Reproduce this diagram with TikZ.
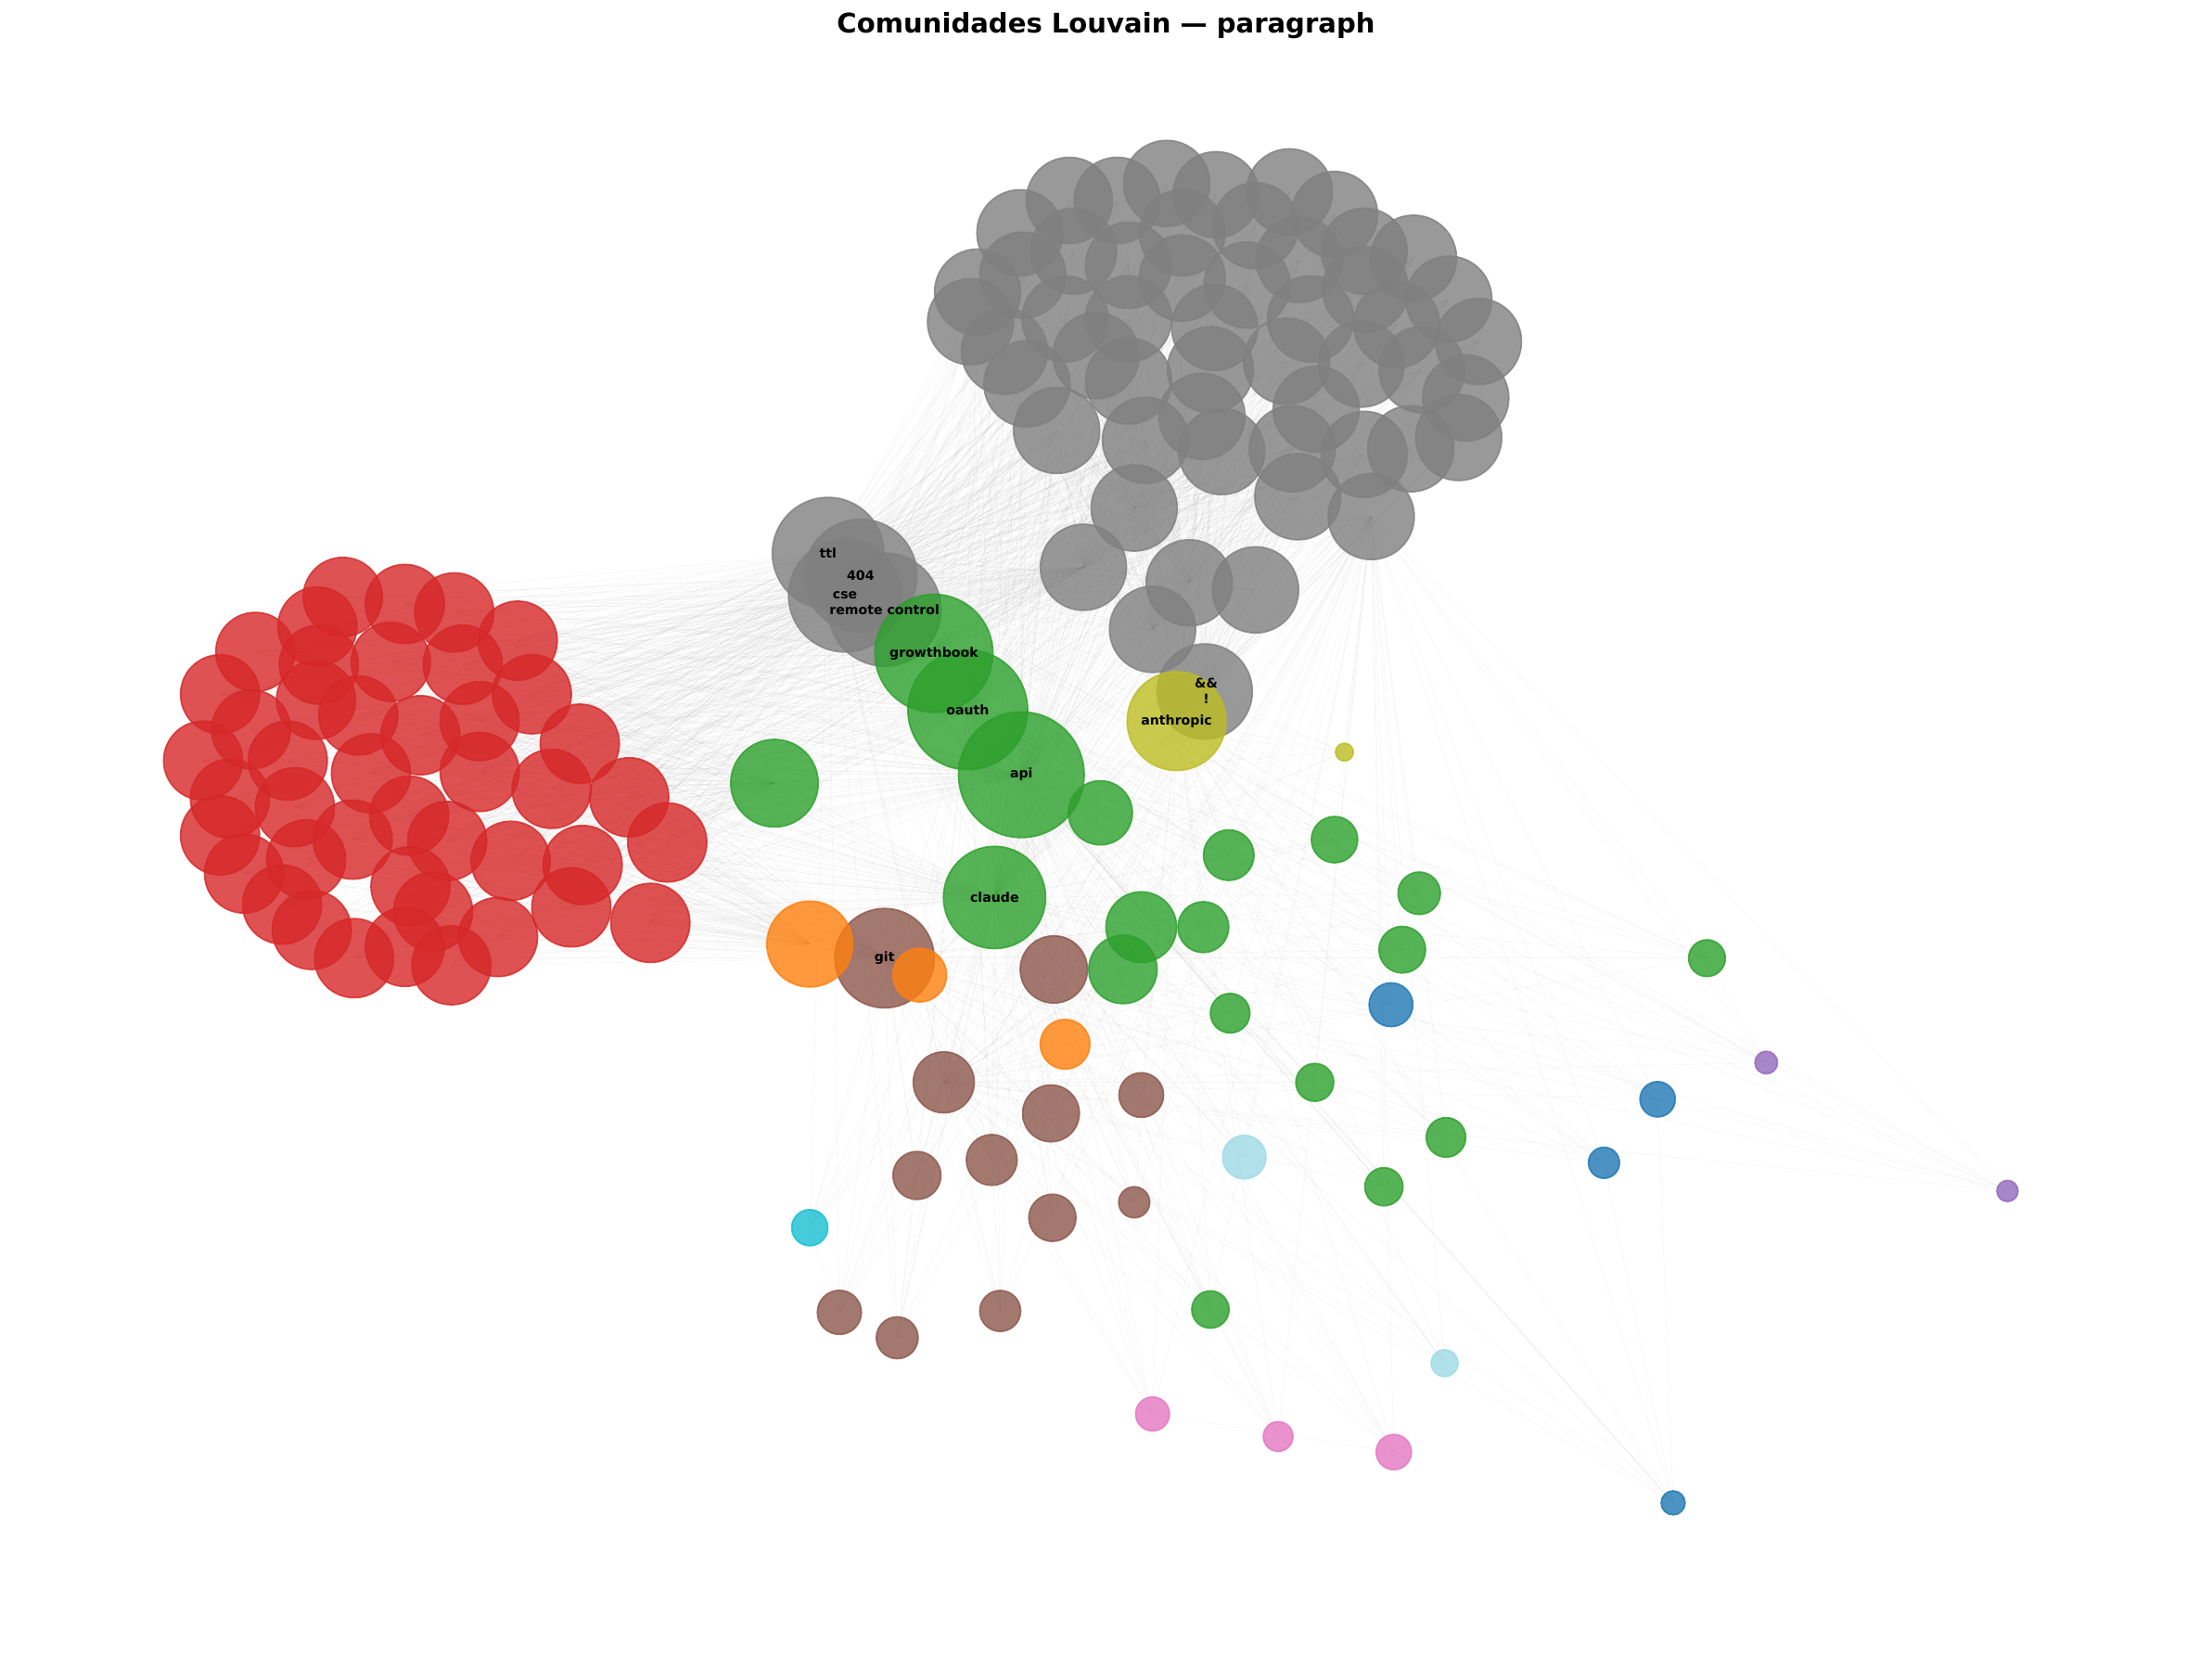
\documentclass[tikz,border=0pt]{standalone}
\usepackage{fontspec}
\setmainfont{DejaVu Sans}
\usetikzlibrary{backgrounds}

\definecolor{cred}{HTML}{D62728}
\definecolor{cgray}{HTML}{7F7F7F}
\definecolor{cgreen}{HTML}{2CA02C}
\definecolor{colive}{HTML}{BCBD22}
\definecolor{corange}{HTML}{FF7F0E}
\definecolor{cbrown}{HTML}{8C564B}
\definecolor{cblue}{HTML}{1F77B4}
\definecolor{cpurple}{HTML}{9467BD}
\definecolor{cpink}{HTML}{E377C2}
\definecolor{ccyan}{HTML}{17BECF}
\definecolor{clcyan}{HTML}{9EDAE5}

\begin{document}
\begin{tikzpicture}[
  x=0.025cm, y=-0.025cm,
  vtx/.style={
    circle,
    inner sep=0pt,
    outer sep=0pt,
    minimum size=#1*0.5mm,
    line width=0.8pt,
    fill opacity=0.8,
    draw opacity=0.8
  },
  gnode/.style={vtx=#1, fill=cgray, draw=cgray},
  rnode/.style={vtx=#1, fill=cred, draw=cred},
  grnode/.style={vtx=#1, fill=cgreen, draw=cgreen},
  bnode/.style={vtx=#1, fill=cbrown, draw=cbrown},
  onode/.style={vtx=#1, fill=corange, draw=corange},
  ynode/.style={vtx=#1, fill=colive, draw=colive},
  blnode/.style={vtx=#1, fill=cblue, draw=cblue},
  pnode/.style={vtx=#1, fill=cpurple, draw=cpurple},
  pknode/.style={vtx=#1, fill=cpink, draw=cpink},
  cnode/.style={vtx=#1, fill=ccyan, draw=ccyan},
  lcnode/.style={vtx=#1, fill=clcyan, draw=clcyan},
  lbl/.style={font=\bfseries\fontsize{6.6}{7}\selectfont, text=black, inner sep=0pt},
  edge/.style={draw=gray, opacity=0.08, line width=0.3pt},
  title/.style={font=\bfseries\fontsize{13.6}{16}\selectfont}
]

\useasboundingbox (0,0) rectangle (1568,1173);

% TITLE
\node[title] (title) at (784,18) {Comunidades Louvain — paragraph};

% ==================== GRAY COMMUNITY ====================
\foreach \px/\py [count=\i] in {
  723/165, 758/142, 792/142, 827/130, 862/138, 914/136, 946/152, 761/178,
  725/195, 800/188, 838/165, 890/160, 921/184, 967/178, 1002/183, 693/207,
  688/228, 838/197, 884/202, 968/205, 1027/212, 755/226, 800/226, 861/232,
  929/226, 990/230, 712/249, 777/252, 858/262, 912/256, 1008/262, 1048/242,
  728/272, 800/270, 852/295, 933/290, 965/258, 1039/282, 749/305, 812/312,
  866/320, 916/318, 967/322, 1000/318, 1034/310, 804/360, 920/352, 972/366,
  768/402, 843/413, 890/418, 817/446}
  \node[gnode=30.5] (g\i) at (\px,\py) {};

\node[gnode=33.7] (amp) at (854,490) {};

% hub words
\node[gnode=39.5] (ttl) at (587,392) {};
\node[gnode=40] (n404) at (610,408) {};
\node[gnode=40] (cse) at (599,422) {};
\node[gnode=40] (rc) at (627,432) {};

% ==================== RED COMMUNITY ====================
\foreach \px/\py [count=\i] in {
  243/423, 287/428, 322/434, 225/444, 367/454, 181/462, 226/471, 277/469,
  328/471, 156/492, 224/496, 254/507, 377/492, 298/521, 340/511, 411/527,
  178/517, 204/539, 144/539, 263/548, 340/547, 391/559, 446/565, 163/566,
  209/572, 290/578, 250/595, 317/596, 156/592, 362/610, 413/613, 473/597,
  217/609, 173/619, 291/628, 200/641, 307/646, 405/643, 461/654, 353/664,
  221/659, 251/679, 287/671, 320/684}
  \node[rnode=28] (r\i) at (\px,\py) {};

% ==================== BROWN ====================
\node[bnode=35.2] (git) at (627,679) {};
\node[bnode=23.8] (b1) at (747,687) {};
\node[bnode=21.6] (b2) at (669,767) {};
\node[bnode=20.1] (b3) at (745,789) {};
\node[bnode=15.8] (b4) at (809,776) {};
\node[bnode=17] (b5) at (650,833) {};
\node[bnode=18] (b6) at (703,822) {};
\node[bnode=16.7] (b7) at (746,863) {};
\node[bnode=11] (b8) at (804,852) {};
\node[bnode=15.6] (b9) at (595,930) {};
\node[bnode=14.8] (b10) at (636,948) {};
\node[bnode=14.5] (b11) at (709,929) {};

% ==================== GREEN ====================
\node[grnode=41.8] (gb) at (662,463) {};
\node[grnode=42.4] (oauth) at (686,503) {};
\node[grnode=44.5] (api) at (724,549) {};
\node[grnode=36.2] (claude) at (705,636) {};
\node[grnode=31] (gL) at (549,555) {};
\node[grnode=22.7] (gr1) at (780,576) {};
\node[grnode=17.9] (gr2) at (871,606) {};
\node[grnode=16.4] (gr3) at (946,595) {};
\node[grnode=15] (gr4) at (1006,633) {};
\node[grnode=25] (gr5) at (809,657) {};
\node[grnode=18] (gr6) at (853,657) {};
\node[grnode=16.5] (gr7) at (994,673) {};
\node[grnode=24.2] (gr8) at (796,687) {};
\node[grnode=13] (gr9) at (1210,679) {};
\node[grnode=14] (gr10) at (872,718) {};
\node[grnode=13.4] (gr11) at (932,767) {};
\node[grnode=14] (gr12) at (1025,806) {};
\node[grnode=13.5] (gr13) at (981,841) {};
\node[grnode=13.2] (gr14) at (858,928) {};

% ==================== ORANGE / OLIVE ====================
\node[onode=30.4] (oA) at (574,669) {};
\node[onode=19] (oB) at (652,691) {};
\node[onode=17.6] (oC) at (755,740) {};
\node[ynode=35] (anth) at (834,511) {};
\node[ynode=6.3] (y1) at (953,533) {};

% ==================== SMALL COMMUNITIES ====================
\node[blnode=15.5] (bl1) at (986,712) {};
\node[blnode=12.5] (bl2) at (1175,779) {};
\node[blnode=11] (bl3) at (1137,824) {};
\node[blnode=8.5] (bl4) at (1186,1065) {};
\node[pnode=8] (p1) at (1252,753) {};
\node[pnode=7.5] (p2) at (1423,844) {};
\node[pknode=12] (pk1) at (817,1002) {};
\node[pknode=10.5] (pk2) at (906,1018) {};
\node[pknode=12.5] (pk3) at (988,1029) {};
\node[cnode=12.8] (cy1) at (574,870) {};
\node[lcnode=15.4] (lc1) at (882,820) {};
\node[lcnode=9.5] (lc2) at (1024,966) {};

% Labels
\node[lbl] (ttl-l) at (ttl) {ttl};
\node[lbl] (n404-l) at (n404) {404};
\node[lbl] (cse-l) at (cse) {cse};
\node[lbl] (rc-l) at (rc) {remote control};
\node[lbl] (gb-l) at (gb) {growthbook};
\node[lbl] (oauth-l) at (oauth) {oauth};
\node[lbl] (api-l) at (api) {api};
\node[lbl] (anth-l) at (anth) {anthropic};
\node[lbl] (amp-l) at (855,484) {\&\&};
\node[lbl] (bang-l) at (855,495) {!};
\node[lbl] (claude-l) at (claude) {claude};
\node[lbl] (git-l) at (git) {git};

% ==================== EDGES ====================
\begin{scope}[on background layer]
  \foreach \i in {1,...,44}
    \foreach \h in {ttl,n404,cse,rc,gb,oauth,api,claude,git,oA,gL,g49}
      \draw[edge] (r\i.center) -- (\h.center);
  \foreach \i in {1,...,52}
    \foreach \h in {ttl,n404,cse,rc,gb,oauth,api,anth,amp,g46,g49,g50,g52,claude}
      \draw[edge] (g\i.center) -- (\h.center);
  \foreach \s in {gr1,gr2,gr3,gr4,gr5,gr6,gr7,gr8,gr9,gr10,gr11,gr12,gr13,gr14,
                  b1,b2,b3,b4,b5,b6,b7,b8,b9,b10,b11,oB,oC,bl1,bl2,bl3,bl4,
                  p1,p2,pk1,pk2,pk3,cy1,lc1,lc2,y1}
    \foreach \h in {api,claude,git,oauth,anth,ttl,g48,b2}
      \draw[edge] (\s.center) -- (\h.center);
  \draw[edge] (bl4.center) -- (bl3.center);
  \draw[edge] (bl4.center) -- (bl2.center);
  \draw[edge] (p2.center) -- (bl2.center);
  \draw[edge] (p1.center) -- (gr9.center);
  \draw[edge] (pk1.center) -- (pk3.center);
  \draw[edge] (y1.center) -- (amp.center);
  \draw[edge] (cy1.center) -- (b9.center);
  \draw[edge] (b10.center) -- (b5.center);
\end{scope}

\end{tikzpicture}
\end{document}
